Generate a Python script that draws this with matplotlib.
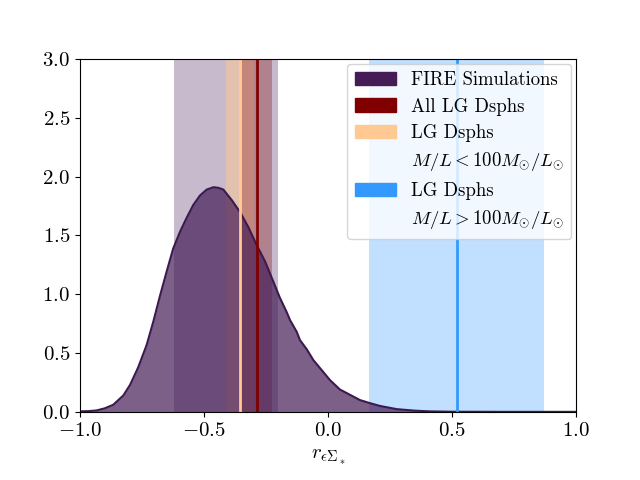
import matplotlib
matplotlib.use("Agg")
import matplotlib.pyplot as plt
from matplotlib.patches import Patch

plt.rcParams['font.family'] = 'serif'
plt.rcParams['font.serif'] = ['cmr10']
plt.rcParams['mathtext.fontset'] = 'cm'
plt.rcParams['axes.formatter.use_mathtext'] = True

# KDE of the FIRE simulations
kde_x = [-1.0, -0.966, -0.933, -0.9, -0.866, -0.825, -0.798, -0.765, -0.731, -0.704, -0.677,
         -0.651, -0.624, -0.597, -0.570, -0.543, -0.516, -0.489, -0.462, -0.442,
         -0.422, -0.388, -0.355, -0.321, -0.288, -0.254, -0.221, -0.194, -0.167,
         -0.153, -0.126, -0.113, -0.085, -0.059, 0.008, 0.048, 0.075, 0.129,
         0.169, 0.21, 0.277, 0.35, 0.41, 0.5, 0.7, 1.0]
kde_y = [0.004, 0.006, 0.012, 0.03, 0.06, 0.14, 0.23, 0.38, 0.57, 0.77, 0.99,
         1.19, 1.39, 1.53, 1.65, 1.76, 1.84, 1.89, 1.91, 1.905,
         1.89, 1.80, 1.70, 1.57, 1.42, 1.28, 1.11, 0.97, 0.85,
         0.78, 0.68, 0.61, 0.53, 0.44, 0.27, 0.19, 0.16, 0.10,
         0.074, 0.05, 0.023, 0.01, 0.004, 0.001, 0.0, 0.0]

# bands (low, high) and central values
fire_band = (-0.621, -0.202)
all_lg = -0.286
all_lg_band = (-0.347, -0.226)
low_ml = -0.355
low_ml_band = (-0.411, -0.30)
high_ml = 0.520
high_ml_band = (0.165, 0.871)

purple = '#451c56'
darkred = '#800000'
orange = '#ffc994'
blue = '#3399ff'

fig, ax = plt.subplots(figsize=(6.4, 4.8))
fig.subplots_adjust(left=0.125, right=0.9, bottom=0.142, top=0.877)

ax.axvspan(*fire_band, color=purple, alpha=0.3, lw=0)
ax.axvspan(*low_ml_band, color=orange, alpha=0.5, lw=0)
ax.axvspan(*all_lg_band, color=darkred, alpha=0.3, lw=0)
ax.axvspan(*high_ml_band, color=blue, alpha=0.3, lw=0)

ax.fill_between(kde_x, kde_y, color=purple, alpha=0.7, lw=0)
ax.plot(kde_x, kde_y, color='#3b1a50', lw=1.5)

ax.axvline(low_ml, color=orange, lw=2)
ax.axvline(all_lg, color=darkred, lw=2)
ax.axvline(high_ml, color=blue, lw=2)

ax.set_xlim(-1, 1)
ax.set_ylim(0, 3)
ax.set_xticks([-1.0, -0.5, 0.0, 0.5, 1.0])
ax.set_yticks([0.0, 0.5, 1.0, 1.5, 2.0, 2.5, 3.0])
ax.tick_params(labelsize=15)
ax.set_xlabel(r'$r_{\epsilon\Sigma_*}$', fontsize=15, labelpad=6)

# second label lines get an invisible handle so patches sit on the first line
blank = Patch(color='none')
handles = [Patch(color=purple), Patch(color=darkred), Patch(color=orange), blank,
           Patch(color=blue), blank]
labels = ['FIRE Simulations', 'All LG Dsphs', 'LG Dsphs',
          r'$M/L<100M_{\odot}/L_{\odot}$', 'LG Dsphs',
          r'$M/L>100M_{\odot}/L_{\odot}$']
ax.legend(handles, labels, loc='upper right', fontsize=13.5, borderaxespad=0.25,
          handlelength=2.2, labelspacing=0.45)

fig.savefig('out.png', dpi=100)
